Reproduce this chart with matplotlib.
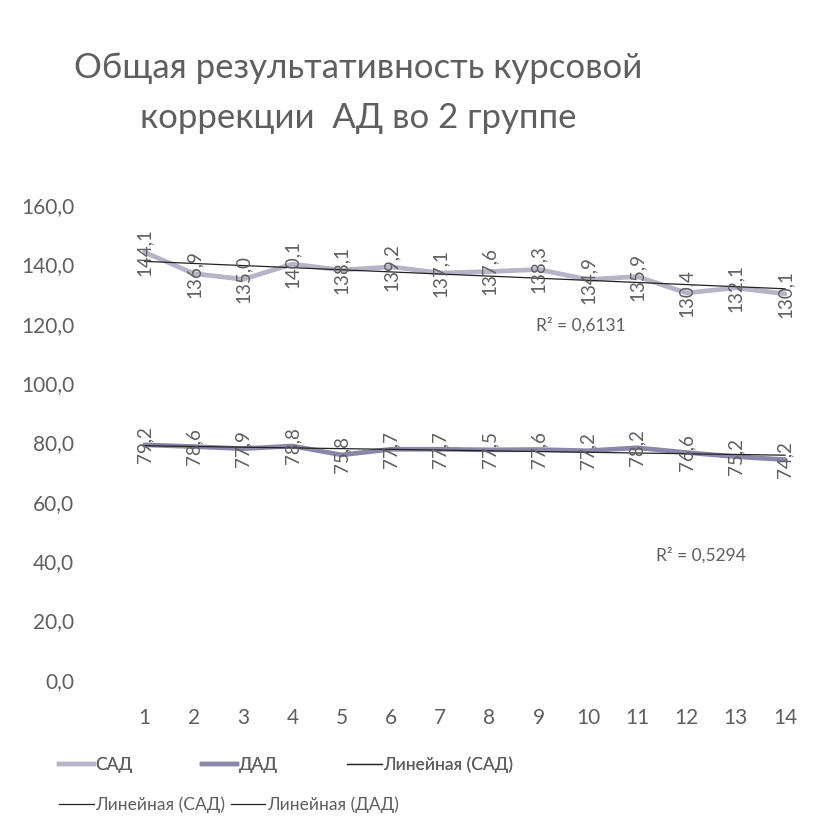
import matplotlib
matplotlib.use("Agg")
import matplotlib.pyplot as plt
from matplotlib.lines import Line2D
import numpy as np

plt.rcParams['font.family'] = ['Lato', 'DejaVu Sans']
plt.rcParams['font.weight'] = 'normal'

# Data
days = list(range(1, 15))
sad = [144.1, 136.9, 135.0, 140.1, 138.1, 139.2, 137.1, 137.6, 138.3, 134.9, 135.9, 130.4, 132.1, 130.1]
dad = [79.2, 78.6, 77.9, 78.8, 75.8, 77.7, 77.7, 77.5, 77.6, 77.2, 78.2, 76.6, 75.2, 74.2]
r2_sad = "0,6131"
r2_dad = "0,5294"
title = "Общая результативность курсовой\nкоррекции  АД во 2 группе"
yticks = [0, 20, 40, 60, 80, 100, 120, 140, 160]

TXT = "#5f5f5f"
SAD_C = "#b6b4c6"
DAD_C = "#8a88a8"

fig = plt.figure(figsize=(8.33, 8.27), dpi=100)
ax = fig.add_axes([0.144, 0.178, 0.828, 0.574])

x = np.array(days, dtype=float)
ys = np.array(sad)
yd = np.array(dad)

ax.plot(x, ys, color=SAD_C, lw=3.4, solid_capstyle='round', zorder=2)
ax.plot(x, yd, color=DAD_C, lw=3.4, solid_capstyle='round', zorder=2)

# least-squares trend lines
ks, bs = np.polyfit(x, ys, 1)
kd, bd = np.polyfit(x, yd, 1)
ax.plot(x, ks * x + bs, color="#222222", lw=0.9, zorder=3)
ax.plot(x, kd * x + bd, color="#222222", lw=0.9, zorder=3)

def fmt(v):
    return f"{v:.1f}".replace(".", ",")

for xi, v in zip(x, ys):
    ax.text(xi, v, fmt(v), rotation=90, ha='center', va='center',
            fontsize=13.5, color=TXT, zorder=4)
for xi, v in zip(x, yd):
    ax.text(xi, v, fmt(v), rotation=90, ha='center', va='center',
            fontsize=13.5, color=TXT, zorder=4)

ax.text(9.85, 119.5, f"R² = {r2_sad}", ha='center', va='center',
        fontsize=12.5, color=TXT)
ax.text(12.3, 42, f"R² = {r2_dad}", ha='center', va='center',
        fontsize=12.5, color=TXT)

ax.set_xlim(0.5, 14.5)
ax.set_ylim(0, 160)
ax.set_xticks(days)
ax.set_xticklabels([str(d) for d in days])
ax.set_yticks(yticks)
ax.set_yticklabels([fmt(t) for t in yticks])
ax.tick_params(length=0, labelsize=15, colors=TXT)
ax.tick_params(axis='y', pad=33)
ax.tick_params(axis='x', pad=20)
for s in ax.spines.values():
    s.set_visible(False)

fig.text(0.43, 0.888, title, ha='center', va='center', fontsize=25, color=TXT,
         linespacing=1.7)

h_sad = Line2D([], [], color=SAD_C, lw=3.2)
h_dad = Line2D([], [], color=DAD_C, lw=3.2)
h_tr = Line2D([], [], color="#222222", lw=0.9)

leg1 = fig.legend([h_sad, h_dad, h_tr], ["САД", "ДАД", "Линейная (САД)"],
                  loc='center left', bbox_to_anchor=(0.052, 0.075), ncol=3,
                  frameon=False, fontsize=12.5, labelcolor=TXT, handlelength=2.0,
                  handletextpad=0.1, columnspacing=4.0)
fig.add_artist(leg1)
fig.legend([h_tr, h_tr], ["Линейная (САД)", "Линейная (ДАД)"],
           loc='center left', bbox_to_anchor=(0.052, 0.027), ncol=2,
           frameon=False, fontsize=12.5, labelcolor=TXT, handlelength=2.0,
           handletextpad=0.1, columnspacing=0.3)

fig.savefig("out.png", dpi=100, facecolor='white')
